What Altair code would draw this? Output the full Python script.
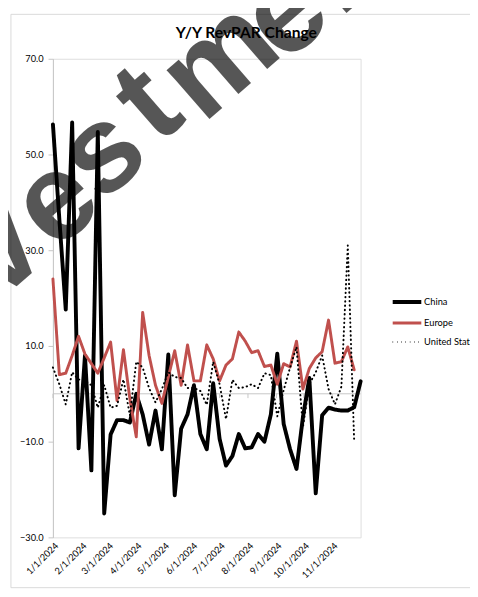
import altair as alt
import pandas as pd

# weekly observations starting 1/1/2024
start_date = "2024-01-01"
n_weeks = 49

china = [56.3, 36.5, 17.6, 56.7, -11.4, 8.0, -16.0, 54.7, -25.0, -8.5,
         -5.5, -5.5, -6.0, 0.0, -4.3, -10.6, -3.5, -11.6, 8.2, -21.2,
         -7.3, -4.3, 1.8, -8.4, -11.6, 2.2, -9.4, -15.0, -13.0, -8.4,
         -11.4, -11.2, -8.4, -10.0, -4.3, 8.4, -6.3, -11.6, -15.7, -4.9,
         3.3, -20.8, -4.5, -2.9, -3.3, -3.5, -3.5, -2.8, 2.6]
europe = [24.0, 4.0, 4.3, 8.0, 12.0, 8.3, 6.3, 4.3, 7.5, 10.8,
          -1.4, 9.2, -1.0, -9.0, 17.0, 8.0, 1.8, -2.0, 3.5, 9.0,
          1.8, 10.2, 2.7, 2.7, 10.2, 7.3, 2.7, 6.0, 7.3, 12.9,
          11.0, 8.6, 9.0, 5.7, 6.0, 2.0, 6.3, 5.6, 11.0, 1.0,
          5.3, 7.5, 8.8, 15.4, 6.4, 6.7, 9.8, 5.0, None]
united_states = [5.5, 2.0, -2.2, 4.5, 3.0, 2.7, 1.8, -2.9, 1.8, -2.9,
                 -2.5, 3.0, -4.5, 6.7, 5.5, 1.2, -1.8, 1.0, 4.5, 3.5,
                 3.3, 1.2, 1.2, 0.6, -2.3, 6.7, 2.0, -5.3, 2.9, 1.2,
                 1.4, 2.0, 1.2, 4.3, 3.9, -4.7, 0.8, 5.5, 9.8, -7.0,
                 2.0, 4.5, 8.0, 1.0, -2.2, 1.5, 31.0, -10.0, None]

series_names = ["China", "Europe", "United State"]
series_colors = ["#000000", "#c0504d", "#000000"]
series_widths = [4.0, 2.0, 3.4]
series_dashes = [[1, 0], [1, 0], [0.4, 4.0]]

y_ticks = [-30, -10, 10, 30, 50, 70]
month_labels = [f"2024-{m:02d}-01T00:00:00" for m in range(1, 12)]

title_text = "Y/Y RevPAR Change"

# watermark letters (decoration overlaid on the picture)
wm_letters = ["v", "e", "s", "t", "m", "e", "n"]

dates = pd.date_range(start_date, periods=n_weeks, freq="7D")
rows = []
for name, vals in zip(series_names, [china, europe, united_states]):
    for d, v in zip(dates, vals):
        if v is not None:
            rows.append({"date": d.strftime("%Y-%m-%dT00:00:00"), "series": name, "value": v})
df = pd.DataFrame(rows)
months_df = pd.DataFrame({"date": month_labels})

grid_color = "#c6c6c6"
font = "Lato"

x_scale = alt.Scale(domain=[alt.DateTime(year=2024, month=1, date=1),
                            alt.DateTime(year=2024, month=12, date=2)])
y_scale = alt.Scale(domain=[-30, 70], nice=False, zero=False)

x_axis = alt.Axis(values=[alt.DateTime(year=2024, month=m, date=1) for m in range(1, 12)],
                  format="%-m/%-d/%Y", labelAngle=-45, labelAlign="right",
                  labelBaseline="top", labelFont=font, labelFontSize=9.5,
                  labelColor="#000000", domain=False, ticks=False, grid=False,
                  title=None, labelPadding=3, labelOverlap=False, labelBound=False,
                  labelFlush=False)
y_axis = alt.Axis(values=y_ticks, format=".1f", labelFont=font, labelFontSize=9.5,
                  labelColor="#000000", tickSize=5, tickColor=grid_color,
                  domainColor=grid_color, gridColor=grid_color, title=None,
                  labelPadding=5)

legend_kw = dict(title=None, orient="none", legendX=348.5, legendY=235,
                 symbolType="M-1.26,0L1.26,0", symbolSize=540,
                 labelFont=font, labelFontSize=9.5, labelColor="#000000",
                 rowPadding=0, padding=0, labelOffset=3.5)

border = alt.Chart(pd.DataFrame({"a": [0]})).mark_rect(
    fill=None, stroke="#d9d9d9", strokeWidth=1
).encode(x=alt.value(-43), x2=alt.value(440), y=alt.value(-45.5), y2=alt.value(541.5))

zero_rule = alt.Chart(pd.DataFrame({"a": [0]})).mark_rule(
    color=grid_color, strokeWidth=1
).encode(y=alt.datum(0, scale=y_scale))

month_ticks = alt.Chart(months_df).mark_rule(color=grid_color, strokeWidth=1).encode(
    x=alt.X("date:T", scale=x_scale, axis=x_axis),
    y=alt.datum(0, scale=y_scale),
    y2=alt.datum(-0.9),
)

lines = alt.Chart(df).mark_line(strokeCap="round", strokeJoin="round").encode(
    x=alt.X("date:T", scale=x_scale, axis=x_axis),
    y=alt.Y("value:Q", scale=y_scale, axis=y_axis),
    color=alt.Color("series:N", scale=alt.Scale(domain=series_names, range=series_colors),
                    legend=alt.Legend(**legend_kw)),
    strokeDash=alt.StrokeDash("series:N", scale=alt.Scale(domain=series_names, range=series_dashes),
                              legend=alt.Legend(**legend_kw)),
    strokeWidth=alt.StrokeWidth("series:N", scale=alt.Scale(domain=series_names, range=series_widths),
                                legend=alt.Legend(**legend_kw)),
    order=alt.Order("series:N"),
)

title = alt.Chart(pd.DataFrame({"t": [title_text]})).mark_text(
    font=font, fontSize=16, fontWeight="bold", color="#000000",
    align="center", baseline="alphabetic"
).encode(text="t:N", x=alt.value(198), y=alt.value(-21))

# watermark letter placement (page pixels -> plot-relative)
wm_pos = [(0, 250), (57, 200), (105, 150), (152, 100), (225, 55), (292, 8), (352, -42)]
wm_layers = []
for ch, (px, py) in zip(wm_letters, wm_pos):
    wm_layers.append(
        alt.Chart(pd.DataFrame({"t": [ch]})).mark_text(
            font="Liberation Sans", fontWeight="bold", fontSize=126, angle=319,
            align="center", baseline="middle", color="#000000", opacity=0.66
        ).encode(text="t:N", x=alt.value(px - 54), y=alt.value(py - 53))
    )

chart = alt.layer(border, zero_rule, month_ticks, lines, title, *wm_layers).properties(
    width=315, height=490,
    autosize=alt.AutoSizeParams(type="none"),
    padding={"left": 46, "top": 45, "right": 112, "bottom": 52},
).configure_view(stroke=None).configure(background="white")

chart.save("out.html", embed_options={"renderer": "svg", "actions": False})
